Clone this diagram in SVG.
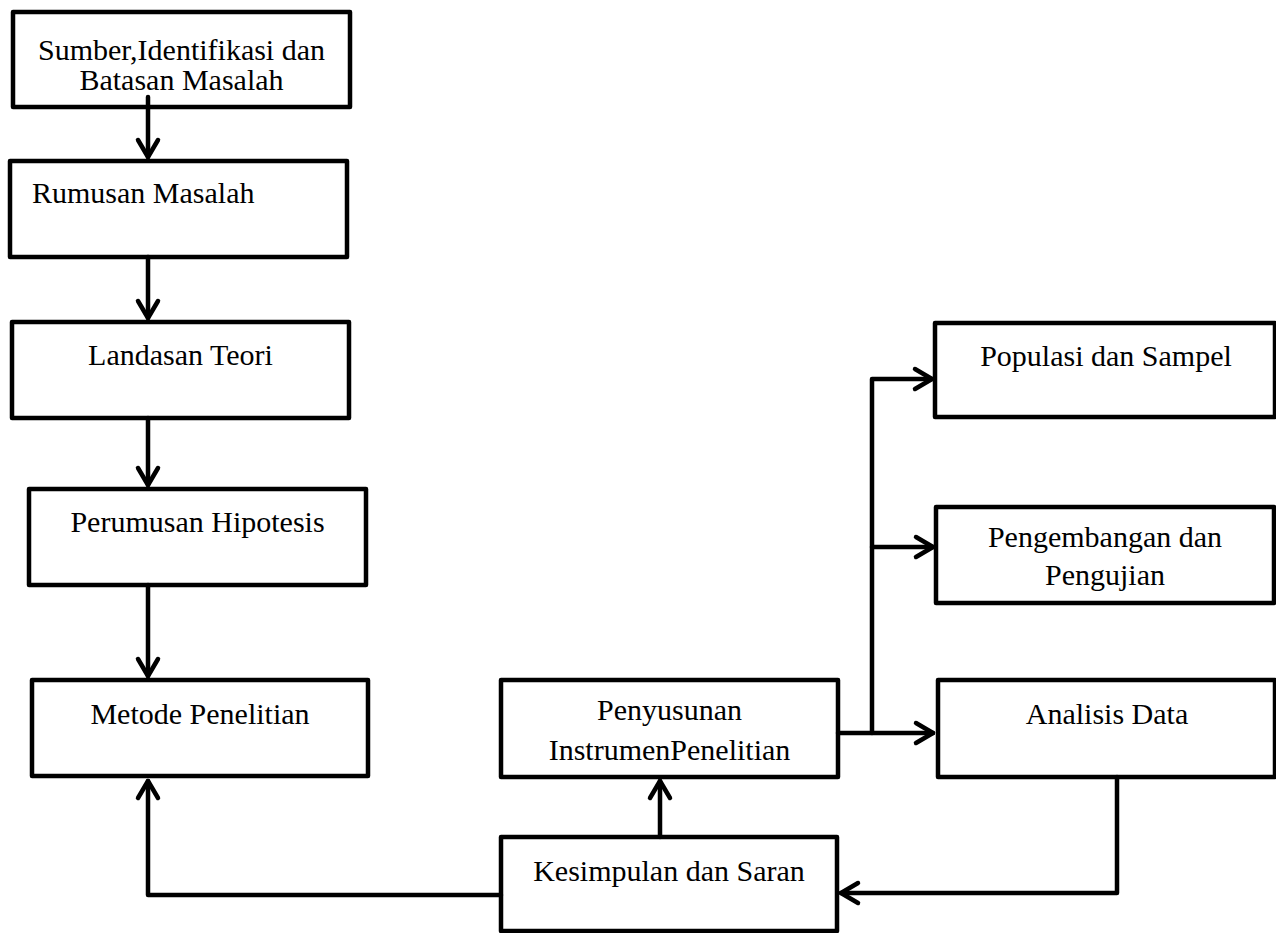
<svg xmlns="http://www.w3.org/2000/svg" width="1276" height="933" viewBox="0 0 1276 933">
<style>
.box{fill:#fff;stroke:#000;stroke-width:4.5;stroke-linejoin:round}
.t{font-family:"Liberation Serif","Times New Roman",serif;font-size:30px;fill:#000;text-anchor:middle}
.l{text-anchor:start}
.c{fill:none;stroke:#000;stroke-width:4.5;stroke-linejoin:round;stroke-linecap:round}
</style>
<defs>
<marker id="ah" markerUnits="userSpaceOnUse" markerWidth="30" markerHeight="30" viewBox="-22 -15 26 30" refX="0" refY="0" orient="auto">
<path d="M-17,-10 L0,0 L-17,10" fill="none" stroke="#000" stroke-width="4.5" stroke-linecap="round" stroke-linejoin="round"/>
</marker>
</defs>
<rect width="1276" height="933" fill="#fff"/>
<g id="n1"><rect class="box" x="13" y="12" width="337" height="95"/><text class="t" x="181.5" y="60">Sumber,Identifikasi dan</text><text class="t" x="181.5" y="90">Batasan Masalah</text></g>
<g id="n2"><rect class="box" x="10" y="161" width="337" height="96"/><text class="t l" x="32" y="203">Rumusan Masalah</text></g>
<g id="n3"><rect class="box" x="12" y="322" width="337" height="96"/><text class="t" x="180.5" y="365">Landasan Teori</text></g>
<g id="n4"><rect class="box" x="29" y="489" width="337" height="96"/><text class="t" x="197.5" y="532">Perumusan Hipotesis</text></g>
<g id="n5"><rect class="box" x="32" y="680" width="336" height="96"/><text class="t" x="200" y="724">Metode Penelitian</text></g>
<g id="n6"><rect class="box" x="501" y="680" width="337" height="97"/><text class="t" x="669.5" y="720">Penyusunan</text><text class="t" x="669.5" y="760">InstrumenPenelitian</text></g>
<g id="n7"><rect class="box" x="501" y="837" width="336" height="94"/><text class="t" x="669" y="881">Kesimpulan dan Saran</text></g>
<g id="n8"><rect class="box" x="935" y="323" width="340" height="94"/><text class="t" x="1106" y="366">Populasi dan Sampel</text></g>
<g id="n9"><rect class="box" x="936" y="507" width="338" height="96"/><text class="t" x="1105" y="547">Pengembangan dan</text><text class="t" x="1105" y="585">Pengujian</text></g>
<g id="n10"><rect class="box" x="938" y="680" width="337" height="97"/><text class="t" x="1107" y="724">Analisis Data</text></g>
<g id="connectors">
<path class="c" d="M148,97 L148,157" marker-end="url(#ah)"/>
<path class="c" d="M148,257 L148,318" marker-end="url(#ah)"/>
<path class="c" d="M148,418 L148,485" marker-end="url(#ah)"/>
<path class="c" d="M148,585 L148,676" marker-end="url(#ah)"/>
<path class="c" d="M501,895 L148,895 L148,781" marker-end="url(#ah)"/>
<path class="c" d="M660,837 L660,781" marker-end="url(#ah)"/>
<path class="c" d="M1117,777 L1117,893 L841,893" marker-end="url(#ah)"/>
<path class="c" d="M838,733 L933,733" marker-end="url(#ah)"/>
<path class="c" d="M872,733 L872,379 L932,379" marker-end="url(#ah)"/>
<path class="c" d="M872,547 L933,547" marker-end="url(#ah)"/>
</g>
</svg>
